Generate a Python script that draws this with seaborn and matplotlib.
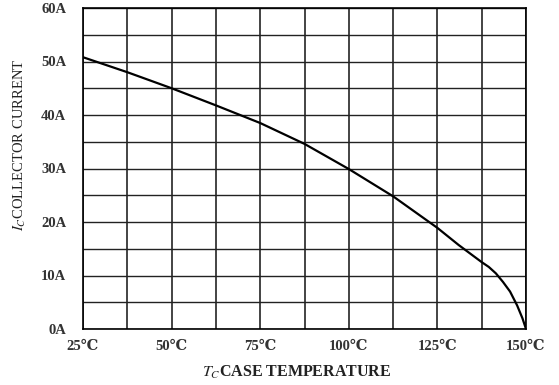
import matplotlib
matplotlib.use("Agg")
import matplotlib.pyplot as plt
import seaborn as sns
import pandas as pd
import numpy as np

# Collector current derating vs case temperature
case_temp = [25, 37.5, 50, 62.5, 75, 87.5, 100, 112.5, 125, 131, 137.5,
             139.5, 141.5, 143.5, 145.5, 147.5, 149, 150]
collector_current = [50.8, 48.0, 45.0, 41.8, 38.5, 34.6, 29.9, 24.8, 18.9,
                     15.7, 12.5, 11.6, 10.4, 8.8, 7.0, 4.4, 2.0, 0.0]

x_ticks = [25, 50, 75, 100, 125, 150]
x_tick_labels = ["25℃", "50℃", "75℃", "100℃", "125℃", "150℃"]
y_ticks = [0, 10, 20, 30, 40, 50, 60]
y_tick_labels = ["0A", "10A", "20A", "30A", "40A", "50A", "60A"]

sns.set_theme(style="white")
plt.rcParams["font.family"] = ["Liberation Serif", "DejaVu Serif"]
plt.rcParams["mathtext.fontset"] = "stix"

df = pd.DataFrame({"T": case_temp, "I": collector_current})

fig = plt.figure(figsize=(5.59, 3.85), dpi=100)
ax = fig.add_axes([83 / 559, 1 - 329 / 385, 443 / 559, 321 / 385])

sns.lineplot(data=df, x="T", y="I", ax=ax, color="black", linewidth=1.6,
             sort=False, zorder=3)

ax.set_xlim(25, 150)
ax.set_ylim(0, 60)

# grid: 10 columns, 12 rows
for gx in np.arange(25, 150.1, 12.5):
    ax.axvline(gx, color="#111111", linewidth=1.1, zorder=1)
for gy in np.arange(0, 60.1, 5):
    ax.axhline(gy, color="#222222", linewidth=1.0, zorder=1)

for s in ax.spines.values():
    s.set_color("black")
    s.set_linewidth(1.2)

ax.set_xticks(x_ticks)
ax.set_xticklabels(x_tick_labels, fontsize=10.5, fontweight="bold",
                   color="#333333")
ax.set_yticks(y_ticks)
ax.set_yticklabels(y_tick_labels, fontsize=10.5, fontweight="bold",
                   color="#333333")
ax.tick_params(axis="x", length=0, pad=8)
ax.tick_params(axis="y", length=0, pad=12)
ax.set_xlabel("")
ax.set_ylabel("")

fig.text(297 / 559, 1 - 372 / 385, r"$\mathbf{\mathit{T_C}}$CASE TEMPERATURE",
         ha="center", va="center", fontsize=11.5, fontweight="bold",
         color="#222222")
fig.text(20 / 559, 1 - 145 / 385, r"$\mathit{I_C}$COLLECTOR CURRENT",
         ha="center", va="center", rotation=90, fontsize=10.5,
         color="#222222")

fig.savefig("out.png", dpi=100)
